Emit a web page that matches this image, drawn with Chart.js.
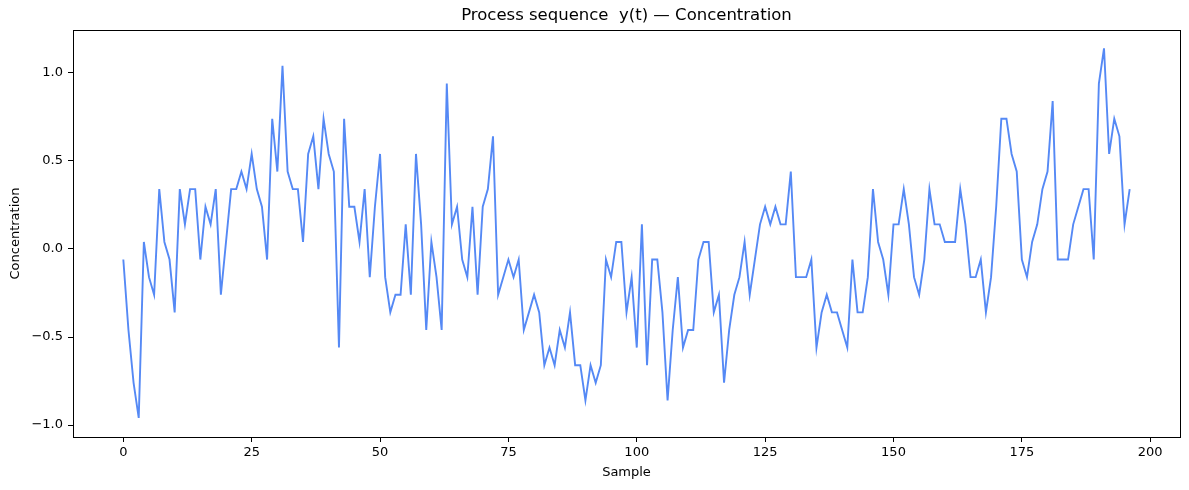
<!DOCTYPE html>
<html>
<head>
<meta charset="utf-8">
<script src="https://cdn.jsdelivr.net/npm/chart.js@4/dist/chart.umd.min.js"></script>
<style>
  html, body { margin: 0; padding: 0; background: #ffffff; }
  #wrap { width: 1189px; height: 490px; }
</style>
</head>
<body>
<div id="wrap"><canvas id="seqChart"></canvas></div>
<script>
// Concentration readings, one per sample (sample index = position)
const concentration = [
  -0.06, -0.46, -0.76, -0.96, 0.04, -0.16, -0.26, 0.34, 0.04, -0.06,
  -0.36, 0.34, 0.14, 0.34, 0.34, -0.06, 0.24, 0.14, 0.34, -0.26,
  0.04, 0.34, 0.34, 0.44, 0.34, 0.54, 0.34, 0.24, -0.06, 0.74,
  0.44, 1.04, 0.44, 0.34, 0.34, 0.04, 0.54, 0.64, 0.34, 0.74,
  0.54, 0.44, -0.56, 0.74, 0.24, 0.24, 0.04, 0.34, -0.16, 0.24,
  0.54, -0.16, -0.36, -0.26, -0.26, 0.14, -0.26, 0.54, 0.14, -0.46,
  0.04, -0.16, -0.46, 0.94, 0.14, 0.24, -0.06, -0.16, 0.24, -0.26,
  0.24, 0.34, 0.64, -0.26, -0.16, -0.06, -0.16, -0.06, -0.46, -0.36,
  -0.26, -0.36, -0.66, -0.56, -0.66, -0.46, -0.56, -0.36, -0.66, -0.66,
  -0.86, -0.66, -0.76, -0.66, -0.06, -0.16, 0.04, 0.04, -0.36, -0.16,
  -0.56, 0.14, -0.66, -0.06, -0.06, -0.36, -0.86, -0.46, -0.16, -0.56,
  -0.46, -0.46, -0.06, 0.04, 0.04, -0.36, -0.26, -0.76, -0.46, -0.26,
  -0.16, 0.04, -0.26, -0.06, 0.14, 0.24, 0.14, 0.24, 0.14, 0.14,
  0.44, -0.16, -0.16, -0.16, -0.06, -0.56, -0.36, -0.26, -0.36, -0.36,
  -0.46, -0.56, -0.06, -0.36, -0.36, -0.16, 0.34, 0.04, -0.06, -0.26,
  0.14, 0.14, 0.34, 0.14, -0.16, -0.26, -0.06, 0.34, 0.14, 0.14,
  0.04, 0.04, 0.04, 0.34, 0.14, -0.16, -0.16, -0.06, -0.36, -0.16,
  0.24, 0.74, 0.74, 0.54, 0.44, -0.06, -0.16, 0.04, 0.14, 0.34,
  0.44, 0.84, -0.06, -0.06, -0.06, 0.14, 0.24, 0.34, 0.34, -0.06,
  0.94, 1.14, 0.54, 0.74, 0.64, 0.14, 0.34
];

const xTickValues = [0, 25, 50, 75, 100, 125, 150, 175, 200];
const yTickValues = [-1.0, -0.5, 0.0, 0.5, 1.0];
const titleText = "Process sequence  y(t) \u2014 Concentration";

const points = concentration.map((v, i) => ({ x: i, y: v }));

const FONT = "'DejaVu Sans', sans-serif";
Chart.defaults.font.family = FONT;
Chart.defaults.color = "#000000";

// full black frame around the plot area (matplotlib style spines)
// plus the title centred over the plot area, not the whole canvas
const frame = {
  id: "frame",
  afterDraw(chart) {
    const { ctx, chartArea: a } = chart;
    ctx.save();
    ctx.strokeStyle = "#000000";
    ctx.lineWidth = 1;
    ctx.strokeRect(Math.round(a.left) + 0.5, Math.round(a.top) + 0.5,
      Math.round(a.right - a.left), Math.round(a.bottom - a.top));
    ctx.fillStyle = "#000000";
    ctx.font = "16.5px " + FONT;
    ctx.textAlign = "center";
    ctx.textBaseline = "middle";
    ctx.fillText(titleText, (a.left + a.right) / 2, 16);
    ctx.restore();
  },
};

const fmt = (v) => (v < 0 ? "\u2212" : "") + Math.abs(v).toFixed(1);

new Chart(document.getElementById("seqChart"), {
  type: "line",
  data: {
    datasets: [
      {
        label: "Concentration",
        data: points,
        borderColor: "#5589f5",
        borderWidth: 1.9,
        pointRadius: 0,
        tension: 0,
        fill: false,
      },
    ],
  },
  options: {
    responsive: true,
    maintainAspectRatio: false,
    animation: false,
    layout: { padding: { left: 0, right: 9, top: 30, bottom: 0 } },
    plugins: {
      legend: { display: false },
      tooltip: { enabled: false },
      title: { display: false },
    },
    scales: {
      x: {
        type: "linear",
        min: -9.8,
        max: 205.8,
        afterBuildTicks: (s) => { s.ticks = xTickValues.map((v) => ({ value: v })); },
        afterFit: (s) => { s.height = 53; },
        grid: { drawOnChartArea: false, drawTicks: true, tickLength: 5, color: "#000000" },
        border: { display: false },
        ticks: { font: { size: 13 }, padding: 3, maxRotation: 0, callback: (v) => String(v) },
        title: {
          display: true,
          text: "Sample",
          font: { size: 13 },
          padding: { top: 0, bottom: 10 },
        },
      },
      y: {
        min: -1.068,
        max: 1.244,
        afterBuildTicks: (s) => { s.ticks = yTickValues.map((v) => ({ value: v })); },
        afterFit: (s) => { s.width = 73; },
        grid: { drawOnChartArea: false, drawTicks: true, tickLength: 5, color: "#000000" },
        border: { display: false },
        ticks: { font: { size: 13 }, padding: 5, callback: (v) => fmt(v) },
        title: {
          display: true,
          text: "Concentration",
          font: { size: 13 },
          padding: { top: 8, bottom: 0 },
        },
      },
    },
  },
  plugins: [frame],
});
</script>
</body>
</html>
